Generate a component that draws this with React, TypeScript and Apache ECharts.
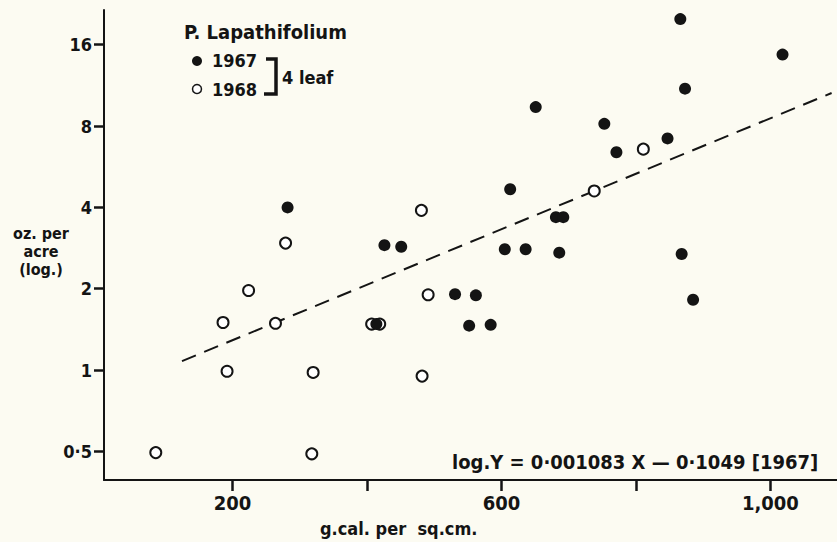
import React, { useEffect, useRef } from "react";
import * as echarts from "echarts";

// Axis ticks / labels
const xTickValues = [200, 400, 600, 800, 1000];
const xLabelValues = [200, 600, 1000];
const yTickValues = [0.5, 1, 2, 4, 8, 16];
const yTickLabels = ["0·5", "1", "2", "4", "8", "16"];

// 1967 (filled circles): g.cal. per sq.cm. vs oz. per acre
const calories1967 = [282, 426, 451, 531, 562, 552, 584, 605, 636, 613, 651, 681, 692, 686, 753, 771, 847, 866, 873, 868, 885, 1018, 414];
const yield1967 = [4.0, 2.9, 2.86, 1.91, 1.89, 1.46, 1.47, 2.8, 2.8, 4.67, 9.4, 3.68, 3.68, 2.72, 8.15, 6.4, 7.2, 19.9, 11.0, 2.69, 1.82, 14.7, 1.48];

// 1968 (open circles)
const calories1968 = [86, 186, 192, 224, 264, 279, 320, 318, 407, 419, 481, 491, 482, 738, 811];
const yield1968 = [0.495, 1.5, 0.99, 1.97, 1.49, 2.95, 0.98, 0.49, 1.48, 1.48, 3.9, 1.9, 0.95, 4.6, 6.57];

// Regression line (1967), end points
const trendX = [125, 1091];
const trendY = [1.08, 10.6];

const X_MIN = 9;
const X_MAX = 1099;
const Y_MIN = 0.392;
const Y_MAX = 21.5;

const INK = "#141414";
const BG = "#fcfbf2";
const FONT = "'DejaVu Sans Condensed', 'DejaVu Sans', sans-serif";

const log2 = (v: number) => Math.log2(v);

export default function App() {
  const ref = useRef<HTMLDivElement>(null);

  useEffect(() => {
    if (!ref.current) return;
    const chart = echarts.init(ref.current, undefined, { renderer: "svg" });

    const labelFor = (l: number) => {
      const idx = yTickValues.findIndex((v) => Math.abs(log2(v) - l) < 1e-6);
      return idx >= 0 ? yTickLabels[idx] : "";
    };

    const option: echarts.EChartsOption = {
      animation: false,
      backgroundColor: BG,
      grid: { left: 104, right: 0, top: 10, bottom: 62, containLabel: false },
      xAxis: {
        type: "value",
        min: X_MIN,
        max: X_MAX,
        splitLine: { show: false },
        axisLine: { show: true, onZero: false, lineStyle: { color: INK, width: 2 } },
        axisTick: {
          show: true,
          customValues: xTickValues,
          length: 11,
          inside: false,
          lineStyle: { color: INK, width: 2.5 },
        },
        axisLabel: {
          customValues: xLabelValues,
          margin: 13,
          color: INK,
          fontFamily: FONT,
          fontWeight: "bold",
          fontSize: 20,
          formatter: (v: number) => (v === 1000 ? "1,000" : String(v)),
        },
      },
      yAxis: {
        type: "value",
        min: log2(Y_MIN),
        max: log2(Y_MAX),
        splitLine: { show: false },
        axisLine: { show: true, onZero: false, lineStyle: { color: INK, width: 2 } },
        axisTick: {
          show: true,
          customValues: yTickValues.map(log2),
          length: 10,
          lineStyle: { color: INK, width: 2.5 },
        },
        axisLabel: {
          customValues: yTickValues.map(log2),
          margin: 12,
          color: INK,
          fontFamily: FONT,
          fontWeight: "bold",
          fontSize: 18,
          formatter: (v: number) => labelFor(v),
        },
      },
      series: [
        {
          name: "trend",
          type: "line",
          data: trendX.map((x, i) => [x, log2(trendY[i])]),
          symbol: "none",
          lineStyle: { color: INK, width: 2, type: [15, 9] },
          silent: true,
          z: 1,
        },
        {
          name: "1968",
          type: "scatter",
          data: calories1968.map((x, i) => [x, log2(yield1968[i])]),
          symbol: "circle",
          symbolSize: 11,
          itemStyle: { color: "#ffffff", borderColor: INK, borderWidth: 2, opacity: 1 },
          z: 2,
        },
        {
          name: "1967",
          type: "scatter",
          data: calories1967.map((x, i) => [x, log2(yield1967[i])]),
          symbol: "circle",
          symbolSize: 12,
          itemStyle: { color: INK, opacity: 1 },
          z: 3,
        },
      ],
      graphic: [
        {
          type: "text",
          x: 184,
          y: 32,
          style: {
            text: "P. Lapathifolium",
            fill: INK,
            fontFamily: FONT,
            fontWeight: "bold",
            fontSize: 20,
            textAlign: "left",
            textVerticalAlign: "middle",
          },
        },
        {
          type: "circle",
          shape: { cx: 197, cy: 61, r: 5 },
          style: { fill: INK },
        },
        {
          type: "text",
          x: 212,
          y: 60,
          style: {
            text: "1967",
            fill: INK,
            fontFamily: FONT,
            fontWeight: "bold",
            fontSize: 18,
            textAlign: "left",
            textVerticalAlign: "middle",
          },
        },
        {
          type: "circle",
          shape: { cx: 197, cy: 89, r: 4.5 },
          style: { fill: "#ffffff", stroke: INK, lineWidth: 1.5 },
        },
        {
          type: "text",
          x: 212,
          y: 89,
          style: {
            text: "1968",
            fill: INK,
            fontFamily: FONT,
            fontWeight: "bold",
            fontSize: 18,
            textAlign: "left",
            textVerticalAlign: "middle",
          },
        },
        {
          type: "polyline",
          shape: { points: [[266, 59], [276, 59], [276, 94], [264, 94]] },
          style: { stroke: INK, lineWidth: 3.5, fill: "none" },
        },
        {
          type: "text",
          x: 282,
          y: 77,
          style: {
            text: "4 leaf",
            fill: INK,
            fontFamily: FONT,
            fontWeight: "bold",
            fontSize: 18,
            textAlign: "left",
            textVerticalAlign: "middle",
          },
        },
        {
          type: "text",
          x: 41,
          y: 251,
          style: {
            text: "oz. per\nacre\n(log.)",
            fill: INK,
            fontFamily: FONT,
            fontWeight: "bold",
            fontSize: 16,
            lineHeight: 18,
            textAlign: "center",
            textVerticalAlign: "middle",
          },
        },
        {
          type: "text",
          x: 320,
          y: 528,
          style: {
            text: "g.cal. per  sq.cm.",
            fill: INK,
            fontFamily: FONT,
            fontWeight: "bold",
            fontSize: 18,
            textAlign: "left",
            textVerticalAlign: "middle",
          },
        },
        {
          type: "text",
          x: 452,
          y: 462,
          style: {
            text: "log.Y = 0·001083 X — 0·1049 [1967]",
            fill: INK,
            fontFamily: FONT,
            fontWeight: "bold",
            fontSize: 20,
            textAlign: "left",
            textVerticalAlign: "middle",
          },
        },
      ],
    };

    chart.setOption(option);
    return () => chart.dispose();
  }, []);

  return (
    <div
      ref={ref}
      style={{ position: "fixed", left: 0, top: 0, width: 837, height: 542 }}
    />
  );
}
